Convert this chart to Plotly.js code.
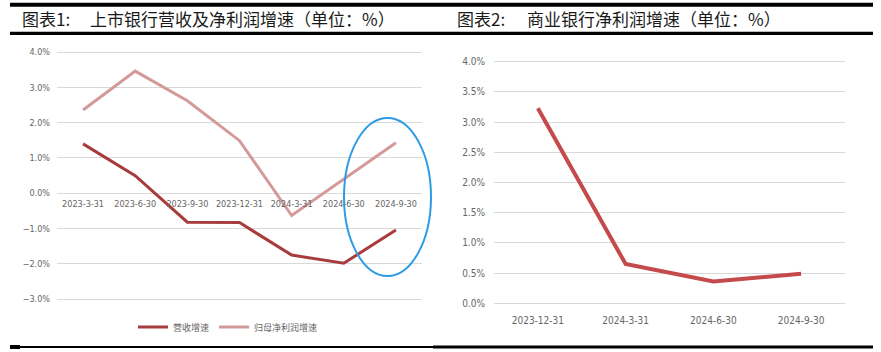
<!DOCTYPE html>
<html>
<head>
<meta charset="utf-8">
<script src="https://cdn.plot.ly/plotly-3.0.1.min.js"></script>
<style>
html,body{margin:0;padding:0;background:#fff;}
#chart{width:881px;height:352px;}
</style>
</head>
<body>
<div id="chart"></div>
<script>
// ---- data ----
const leftCategories = ['2023-3-31','2023-6-30','2023-9-30','2023-12-31','2024-3-31','2024-6-30','2024-9-30'];
const revenueGrowth = [1.40, 0.50, -0.82, -0.83, -1.75, -1.98, -1.04];
const profitGrowth  = [2.36, 3.46, 2.62, 1.49, -0.63, 0.40, 1.43];
const leftSeriesNames = ['营收增速', '归母净利润增速'];

const rightCategories = ['2023-12-31','2024-3-31','2024-6-30','2024-9-30'];
const bankProfitGrowth = [3.23, 0.65, 0.36, 0.49];

const leftTitleTag = '图表1:';
const leftTitle = '上市银行营收及净利润增速（单位：%）';
const rightTitleTag = '图表2:';
const rightTitle = '商业银行净利润增速（单位：%）';

// ---- layout helpers ----
const W = 881, H = 352;
const px = x => x / W;
const py = y => 1 - y / H;

const leftRange = [-3.3, 4.2];
const leftDomain = [py(309.8), py(45.0)];
const rightRange = [-0.02, 4.15];
const rightDomain = [py(304.5), py(52.6)];
const zeroPos = leftDomain[0] + (0 - leftRange[0]) / (leftRange[1] - leftRange[0]) * (leftDomain[1] - leftDomain[0]);

const tickFont = {family: '"Liberation Sans Narrow","DejaVu Sans Condensed","Noto Sans CJK SC",sans-serif', color: '#666666'};

const traces = [
  {x: leftCategories, y: revenueGrowth, name: leftSeriesNames[0], type: 'scatter', mode: 'lines',
   line: {color: '#a83c3d', width: 3}, xaxis: 'x', yaxis: 'y', hoverinfo: 'skip'},
  {x: leftCategories, y: profitGrowth, name: leftSeriesNames[1], type: 'scatter', mode: 'lines',
   line: {color: '#d49a9a', width: 3}, xaxis: 'x', yaxis: 'y', hoverinfo: 'skip'},
  {x: rightCategories, y: bankProfitGrowth, name: '商业银行净利润增速', type: 'scatter', mode: 'lines',
   line: {color: '#c44a4b', width: 4}, xaxis: 'x2', yaxis: 'y2', showlegend: false, hoverinfo: 'skip'}
];

const titleFont = {family: '"Noto Sans CJK SC",sans-serif', size: 17, color: '#1a1a1a'};

const layout = {
  width: W, height: H,
  margin: {l: 0, r: 0, t: 0, b: 0},
  paper_bgcolor: '#ffffff', plot_bgcolor: 'rgba(0,0,0,0)',
  showlegend: true,
  legend: {orientation: 'h', x: px(228), xanchor: 'center', y: py(327), yanchor: 'middle',
           font: {family: '"Noto Sans CJK SC",sans-serif', size: 9, color: '#666666'},
           itemwidth: 30, tracegroupgap: 0},
  xaxis: {domain: [px(57), px(422)], anchor: 'free', position: zeroPos, type: 'category',
          range: [-0.5, 6.5], showgrid: false, zeroline: false, showline: false, ticks: '',
          ticklabelstandoff: 4, tickfont: Object.assign({size: 9}, tickFont), fixedrange: true},
  yaxis: {domain: leftDomain, anchor: 'x', range: leftRange, dtick: 1, tick0: 0,
          tickformat: '.1f', ticksuffix: '%', showgrid: true, gridcolor: '#d9d9d9', gridwidth: 1,
          zeroline: false, showline: false, ticks: '', ticklabelstandoff: 6,
          tickfont: Object.assign({size: 9}, tickFont), fixedrange: true},
  xaxis2: {domain: [px(494), px(845)], anchor: 'y2', type: 'category', range: [-0.5, 3.5],
           showgrid: false, zeroline: false, showline: false, ticks: '', ticklabelstandoff: 8,
           tickfont: Object.assign({size: 10}, tickFont), fixedrange: true},
  yaxis2: {domain: rightDomain, anchor: 'x2', range: rightRange, dtick: 0.5, tick0: 0,
           tickformat: '.1f', ticksuffix: '%', showgrid: true, gridcolor: '#d9d9d9', gridwidth: 1,
           zeroline: false, showline: false, ticks: '', ticklabelstandoff: 8,
           tickfont: Object.assign({size: 10}, tickFont), fixedrange: true},
  shapes: [
    // top thick rule
    {type: 'rect', xref: 'paper', yref: 'paper', x0: px(10), x1: px(873), y0: py(6.7), y1: py(2.7),
     fillcolor: '#000', line: {width: 0}},
    // rule under titles
    {type: 'rect', xref: 'paper', yref: 'paper', x0: px(10), x1: px(873), y0: py(35), y1: py(31.7),
     fillcolor: '#000', line: {width: 0}},
    // bottom rules
    {type: 'rect', xref: 'paper', yref: 'paper', x0: px(10), x1: px(433), y0: py(348), y1: py(346),
     fillcolor: '#000', line: {width: 0}},
    {type: 'rect', xref: 'paper', yref: 'paper', x0: px(10), x1: px(20), y0: py(349), y1: py(345),
     fillcolor: '#000', line: {width: 0}},
    {type: 'rect', xref: 'paper', yref: 'paper', x0: px(433), x1: px(873), y0: py(348.5), y1: py(345.5),
     fillcolor: '#000', line: {width: 0}},
    // blue highlight ellipse
    {type: 'circle', xref: 'paper', yref: 'paper', x0: px(344), x1: px(431), y0: py(276), y1: py(118),
     line: {color: '#2e9be6', width: 2}, fillcolor: 'rgba(0,0,0,0)'}
  ],
  annotations: [
    {text: leftTitleTag, xref: 'paper', yref: 'paper', x: px(20), y: py(19), xanchor: 'left', yanchor: 'middle',
     showarrow: false, font: titleFont},
    {text: leftTitle, xref: 'paper', yref: 'paper', x: px(88), y: py(19), xanchor: 'left', yanchor: 'middle',
     showarrow: false, font: titleFont},
    {text: rightTitleTag, xref: 'paper', yref: 'paper', x: px(455), y: py(19), xanchor: 'left', yanchor: 'middle',
     showarrow: false, font: titleFont},
    {text: rightTitle, xref: 'paper', yref: 'paper', x: px(525), y: py(19), xanchor: 'left', yanchor: 'middle',
     showarrow: false, font: titleFont}
  ]
};

Plotly.newPlot('chart', traces, layout, {displayModeBar: false, staticPlot: true});
</script>
</body>
</html>
